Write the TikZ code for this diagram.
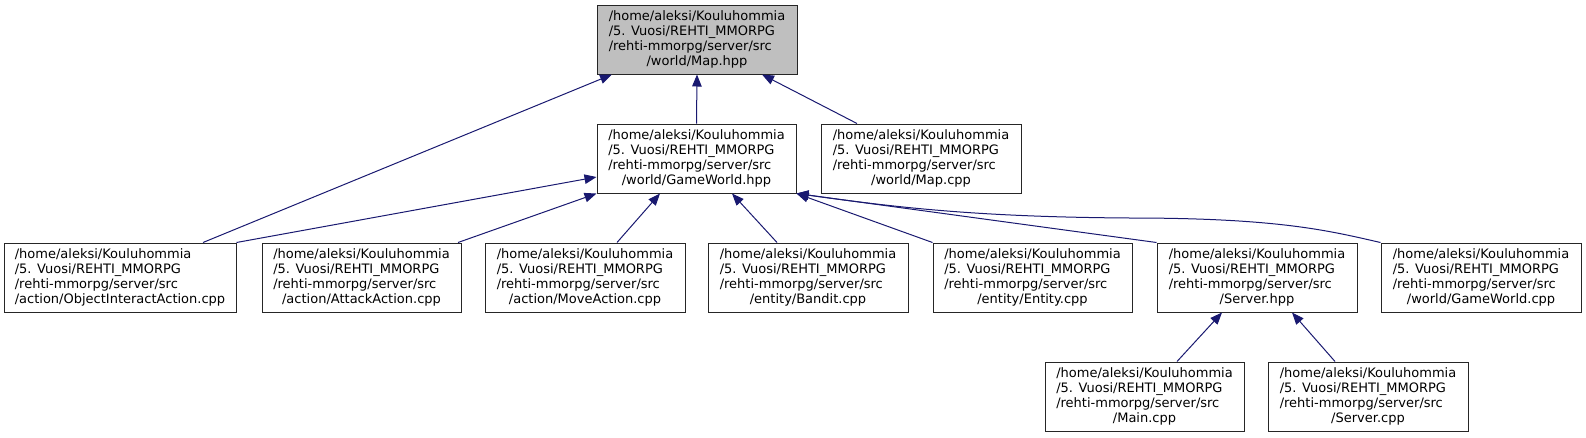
\documentclass[tikz,border=0pt]{standalone}
\usepackage{fontspec}
\setmainfont{DejaVu Sans}
\usetikzlibrary{arrows.meta}
\definecolor{edgeblue}{HTML}{191970}
\definecolor{rootgray}{HTML}{BFBFBF}
\newcommand\flabel[4]{\begin{tabular}{@{}l@{}}#1\\#2\\#3\\\multicolumn{1}{@{}c@{}}{#4}\end{tabular}}
\newcommand\plabel[1]{\flabel{/home/aleksi/Kouluhommia}{/5. Vuosi/REHTI\_MMORPG}{/rehti-mmorpg/server/src}{#1}}
\tikzset{
  filebox/.style={draw=black!85, line width=1pt, fill=white, inner sep=0pt,
    minimum height=69pt, font=\fontsize{13}{15}\selectfont},
  rootbox/.style={filebox, fill=rootgray},
  dep/.style={draw=edgeblue, line width=1pt, -{Triangle[length=12pt,width=9.5pt]}, fill=none},
}
\begin{document}
\begin{tikzpicture}[x=1pt,y=-1pt]
\useasboundingbox (0,0) rectangle (1586,437);
% nodes
\node[rootbox, minimum width=200pt] (maphpp) at (697,39.5) {\plabel{/world/Map.hpp}};
\node[filebox, minimum width=199pt] (gwhpp) at (696.5,158.5) {\plabel{/world/GameWorld.hpp}};
\node[filebox, minimum width=200pt] (mapcpp) at (921,158.5) {\plabel{/world/Map.cpp}};
\node[filebox, minimum width=232pt] (objint) at (120,277.5) {\plabel{/action/ObjectInteractAction.cpp}};
\node[filebox, minimum width=199pt] (attack) at (361.5,277.5) {\plabel{/action/AttackAction.cpp}};
\node[filebox, minimum width=200pt] (move) at (585,277.5) {\plabel{/action/MoveAction.cpp}};
\node[filebox, minimum width=200pt] (bandit) at (808,277.5) {\plabel{/entity/Bandit.cpp}};
\node[filebox, minimum width=199pt] (entity) at (1032.5,277.5) {\plabel{/entity/Entity.cpp}};
\node[filebox, minimum width=200pt] (serverhpp) at (1257,277.5) {\plabel{/Server.hpp}};
\node[filebox, minimum width=200pt] (gwcpp) at (1481,277.5) {\plabel{/world/GameWorld.cpp}};
\node[filebox, minimum width=199pt] (main) at (1144.5,396.5) {\plabel{/Main.cpp}};
\node[filebox, minimum width=200pt] (servercpp) at (1368,396.5) {\plabel{/Server.cpp}};
% edges
\draw[dep] ([xshift=83pt]objint.north) -- ([xshift=-85pt]maphpp.south);
\draw[dep] (gwhpp.north) -- (maphpp.south);
\draw[dep] ([xshift=-64pt]mapcpp.north) -- ([xshift=65pt]maphpp.south);
\draw[dep] (objint.north east) -- ([yshift=-18.5pt]gwhpp.west);
\draw[dep] ([xshift=96.5pt]attack.north) -- (gwhpp.south west);
\draw[dep] ([xshift=32pt]move.north) -- ([xshift=-36.5pt]gwhpp.south);
\draw[dep] ([xshift=-31pt]bandit.north) -- ([xshift=35.5pt]gwhpp.south);
\draw[dep] (entity.north west) -- (gwhpp.south east);
\draw[dep] (serverhpp.north west) -- (gwhpp.south east);
\draw[dep] (gwcpp.north west) .. controls (1330,231) and (1280,218) .. (1130,218)
  .. controls (980,217) and (900,208) .. (gwhpp.south east);
\draw[dep] ([xshift=32.5pt]main.north) -- ([xshift=-35pt]serverhpp.south);
\draw[dep] ([xshift=-33pt]servercpp.north) -- ([xshift=35pt]serverhpp.south);
\end{tikzpicture}
\end{document}
